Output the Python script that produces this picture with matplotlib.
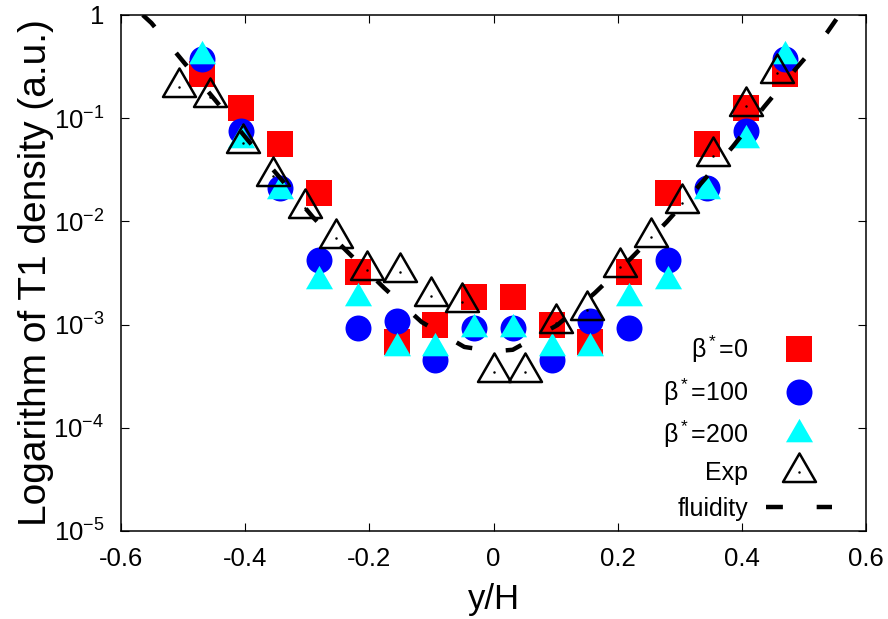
import numpy as np
import matplotlib
matplotlib.use('Agg')
import matplotlib.pyplot as plt
from matplotlib.path import Path
from matplotlib.ticker import NullLocator

plt.rcParams['font.family'] = ['Liberation Sans', 'DejaVu Sans']
plt.rcParams['mathtext.fontset'] = 'custom'
plt.rcParams['mathtext.rm'] = 'Liberation Sans'
plt.rcParams['mathtext.it'] = 'Liberation Sans:italic'
plt.rcParams['mathtext.bf'] = 'Liberation Sans:bold'

# model bins (y/H)
x_model = [-0.469, -0.406, -0.344, -0.281, -0.219, -0.156, -0.094, -0.031,
           0.031, 0.094, 0.156, 0.219, 0.281, 0.344, 0.406, 0.469]
beta0 = [0.27, 0.126, 0.056, 0.019, 0.0032, 6.8e-4, 1.0e-3, 1.85e-3,
         1.85e-3, 1.0e-3, 6.8e-4, 0.0032, 0.019, 0.056, 0.126, 0.27]
beta100 = [0.375, 0.075, 0.021, 0.0042, 9.3e-4, 1.08e-3, 4.55e-4, 9.3e-4,
           9.3e-4, 4.55e-4, 1.08e-3, 9.3e-4, 0.0042, 0.021, 0.075, 0.375]
beta200 = [0.396, 0.0608, 0.0199, 0.00267, 0.00179, 5.87e-4, 5.87e-4, 8.97e-4,
           8.97e-4, 5.87e-4, 5.87e-4, 0.00179, 0.00267, 0.0199, 0.0608, 0.396]

# experiment
x_exp = [-0.506, -0.457, -0.404, -0.356, -0.304, -0.253, -0.203, -0.151, -0.101, -0.050,
         0.0, 0.051, 0.101, 0.151, 0.203, 0.254, 0.304, 0.354, 0.406, 0.456]
y_exp = [0.200, 0.160, 0.0575, 0.0275, 0.0135, 0.0069, 0.00338, 0.00323, 0.00189, 0.00166,
         3.47e-4, 3.47e-4, 1.04e-3, 1.39e-3, 0.00361, 0.00706, 0.0151, 0.043, 0.131, 0.274]

# fluidity model curve
x_fl = [-0.565, -0.551, -0.498, -0.446, -0.396, -0.345, -0.291, -0.235, -0.176, -0.116,
        -0.047, 0.0, 0.031, 0.103, 0.163, 0.222, 0.279, 0.332, 0.385, 0.436, 0.488, 0.538, 0.557]
y_fl = [1.0, 0.836, 0.343, 0.144, 0.0615, 0.0269, 0.0110, 0.00505, 0.00226, 0.00106,
        6.07e-4, 5.5e-4, 5.7e-4, 9.9e-4, 2.02e-3, 4.42e-3, 9.86e-3, 0.0225, 0.0526, 0.129,
        0.306, 0.684, 1.0]

yticks = [1e-5, 1e-4, 1e-3, 1e-2, 1e-1, 1]
yticklabels = ['$10^{-5}$', '$10^{-4}$', '$10^{-3}$', '$10^{-2}$', '$10^{-1}$', '1']
xticks = [-0.6, -0.4, -0.2, 0, 0.2, 0.4, 0.6]
xticklabels = ['-0.6', '-0.4', '-0.2', '0', '0.2', '0.4', '0.6']

# triangle with its centroid on the data point (like gnuplot)
tri = Path([(0, 1), (-0.866, -0.5), (0.866, -0.5), (0, 1)], closed=True)

fig = plt.figure(figsize=(8.88, 6.19), dpi=100)
ax = fig.add_axes([0.1363, 0.1422, 0.8389, 0.8336])

h0, = ax.plot(x_model, beta0, ls='none', marker='s', ms=19.4, mfc='#ff0000', mew=0)
h1, = ax.plot(x_model, beta100, ls='none', marker='o', ms=18.7, mfc='#0000ff', mew=0)
h2, = ax.plot(x_model, beta200, ls='none', marker=tri, ms=22.5, mfc='#00ffff', mew=0)
h3, = ax.plot(x_exp, y_exp, ls='none', marker=tri, ms=27.4, mfc='none', mec='black', mew=1.8)
h3d, = ax.plot(x_exp, y_exp, ls='none', marker='o', ms=1.8, mfc='black', mew=0)
h4, = ax.plot(x_fl, y_fl, color='black', lw=3.2, dashes=(3.8, 7.6), dash_capstyle='butt')

ax.set_yscale('log')
ax.set_xlim(-0.6, 0.6)
ax.set_ylim(1e-5, 1)
ax.set_yticks(yticks)
ax.set_yticklabels(yticklabels)
ax.set_xticks(xticks)
ax.set_xticklabels(xticklabels)
ax.yaxis.set_minor_locator(NullLocator())
ax.tick_params(direction='in', top=True, right=True, length=5.8, width=0.8,
               labelsize=18.5)
ax.tick_params(axis='x', pad=11.5)
ax.tick_params(axis='y', pad=12)
for s in ax.spines.values():
    s.set_linewidth(1.1)

ax.set_xlabel('y/H', fontsize=25)
ax.set_ylabel('Logarithm of T1 density (a.u.)', fontsize=28)
ax.xaxis.set_label_coords(0.5, -0.1)
ax.yaxis.set_label_coords(-0.09, 0.5)

ax.legend([h0, h1, h2, (h3, h3d), h4],
          ['β$^*$=0', 'β$^*$=100', 'β$^*$=200', 'Exp', 'fluidity'],
          loc='lower right', bbox_to_anchor=(0.955, 0.02), frameon=False,
          markerfirst=False, fontsize=18, handlelength=2.64, handletextpad=0.72,
          labelspacing=0.45, borderpad=0, borderaxespad=0, numpoints=1)

fig.savefig('out.png', dpi=100)
